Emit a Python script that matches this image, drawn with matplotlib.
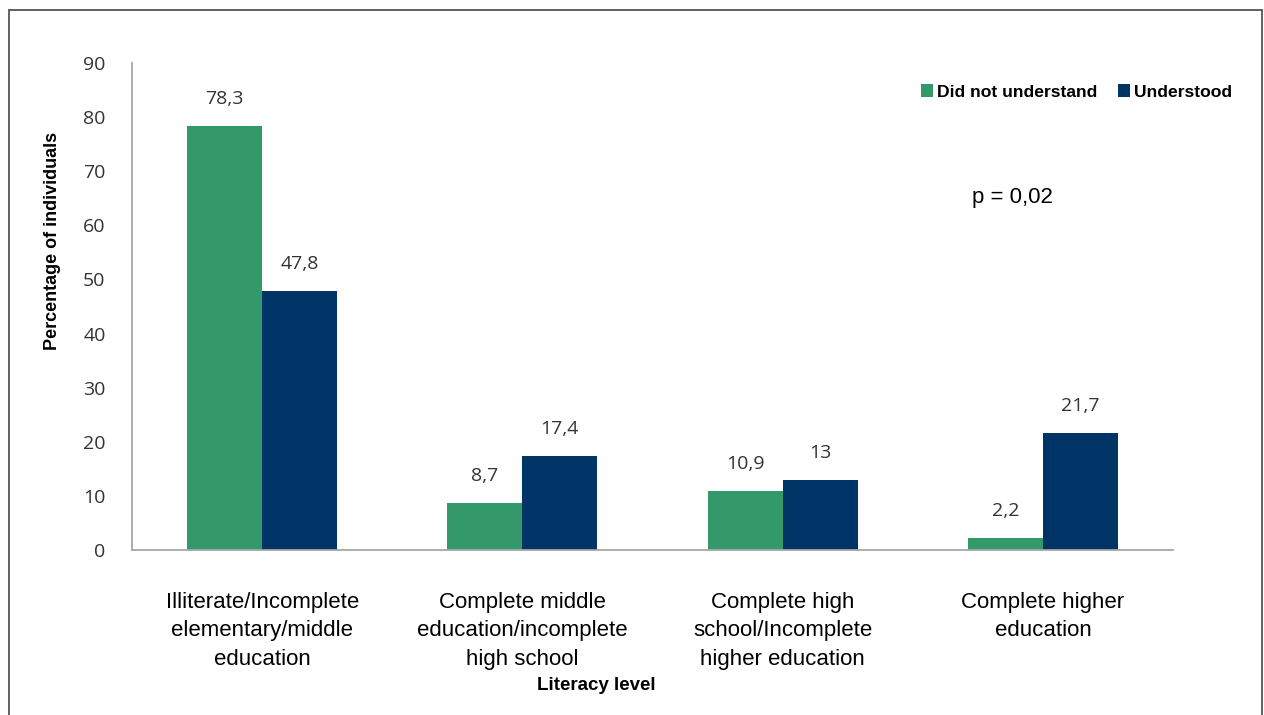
import numpy as np
import matplotlib.pyplot as plt
from matplotlib.patches import Rectangle

categories = ["Illiterate/Incomplete\nelementary/middle\neducation",
              "Complete middle\neducation/incomplete\nhigh school",
              "Complete high\nschool/Incomplete\nhigher education",
              "Complete higher\neducation"]
did_not = [78.3, 8.7, 10.9, 2.2]
understood = [47.8, 17.4, 13.0, 21.7]
did_not_labels = ["78,3", "8,7", "10,9", "2,2"]
understood_labels = ["47,8", "17,4", "13", "21,7"]

green = '#34996a'
navy = '#003366'
W, H = 1264, 715

fig = plt.figure(figsize=(W / 100, H / 100), dpi=100)
ax = fig.add_axes([132 / W, 1 - 550 / H, (1173 - 132) / W, (550 - 63) / H])

x = np.arange(len(categories))
w = 0.288
b1 = ax.bar(x - w / 2, did_not, w, color=green, label='Did not understand')
b2 = ax.bar(x + w / 2, understood, w, color=navy, label='Understood')

for bars, labs in [(b1, did_not_labels), (b2, understood_labels)]:
    for r, lab in zip(bars, labs):
        ax.annotate(lab, (r.get_x() + r.get_width() / 2, r.get_height()),
                    xytext=(0, 13), textcoords='offset points', ha='center', va='bottom',
                    fontsize=14, family='Open Sans', color='#333333')

ax.set_xlim(-0.5, 3.5)
ax.set_ylim(0, 90)
ax.set_yticks(range(0, 91, 10))
ax.set_xticks(x)
ax.set_xticklabels(categories, fontsize=16, family='Liberation Sans', linespacing=1.48)
ax.tick_params(axis='x', length=0, pad=30)
ax.tick_params(axis='y', length=0, pad=19, labelcolor='#333333')
for t in ax.get_yticklabels():
    t.set_family('Open Sans')
    t.set_fontsize(14)

for s in ['top', 'right']:
    ax.spines[s].set_visible(False)
for s in ['left', 'bottom']:
    ax.spines[s].set_color('#a6a6a6')
    ax.spines[s].set_linewidth(1.3)

fig.text(53 / W, 1 - 241 / H, 'Percentage of individuals', rotation=90, ha='center', va='center',
         fontsize=13, fontweight='bold', family='Liberation Sans')
fig.text(596 / W, 1 - 686 / H, 'Literacy level', ha='center', va='center',
         fontsize=13.5, fontweight='bold', family='Liberation Sans')
fig.text(1012 / W, 1 - 198 / H, 'p = 0,02', ha='center', va='center',
         fontsize=16, family='Liberation Sans')

fig.legend(handles=[b1, b2], loc='center left', bbox_to_anchor=(921 / W, 1 - 92 / H),
           ncol=2, frameon=False, handlelength=0.7, handleheight=0.7, handletextpad=0.2,
           columnspacing=1.2, borderpad=0, borderaxespad=0,
           prop={'family': 'Liberation Sans', 'weight': 'bold', 'size': 12.6})

fig.patches.append(Rectangle((9 / W, -0.01), (1262 - 9) / W, 1.01 - 10 / H,
                             transform=fig.transFigure, fill=False, edgecolor='#555555', lw=1.3))

fig.savefig('out.png', dpi=100)
